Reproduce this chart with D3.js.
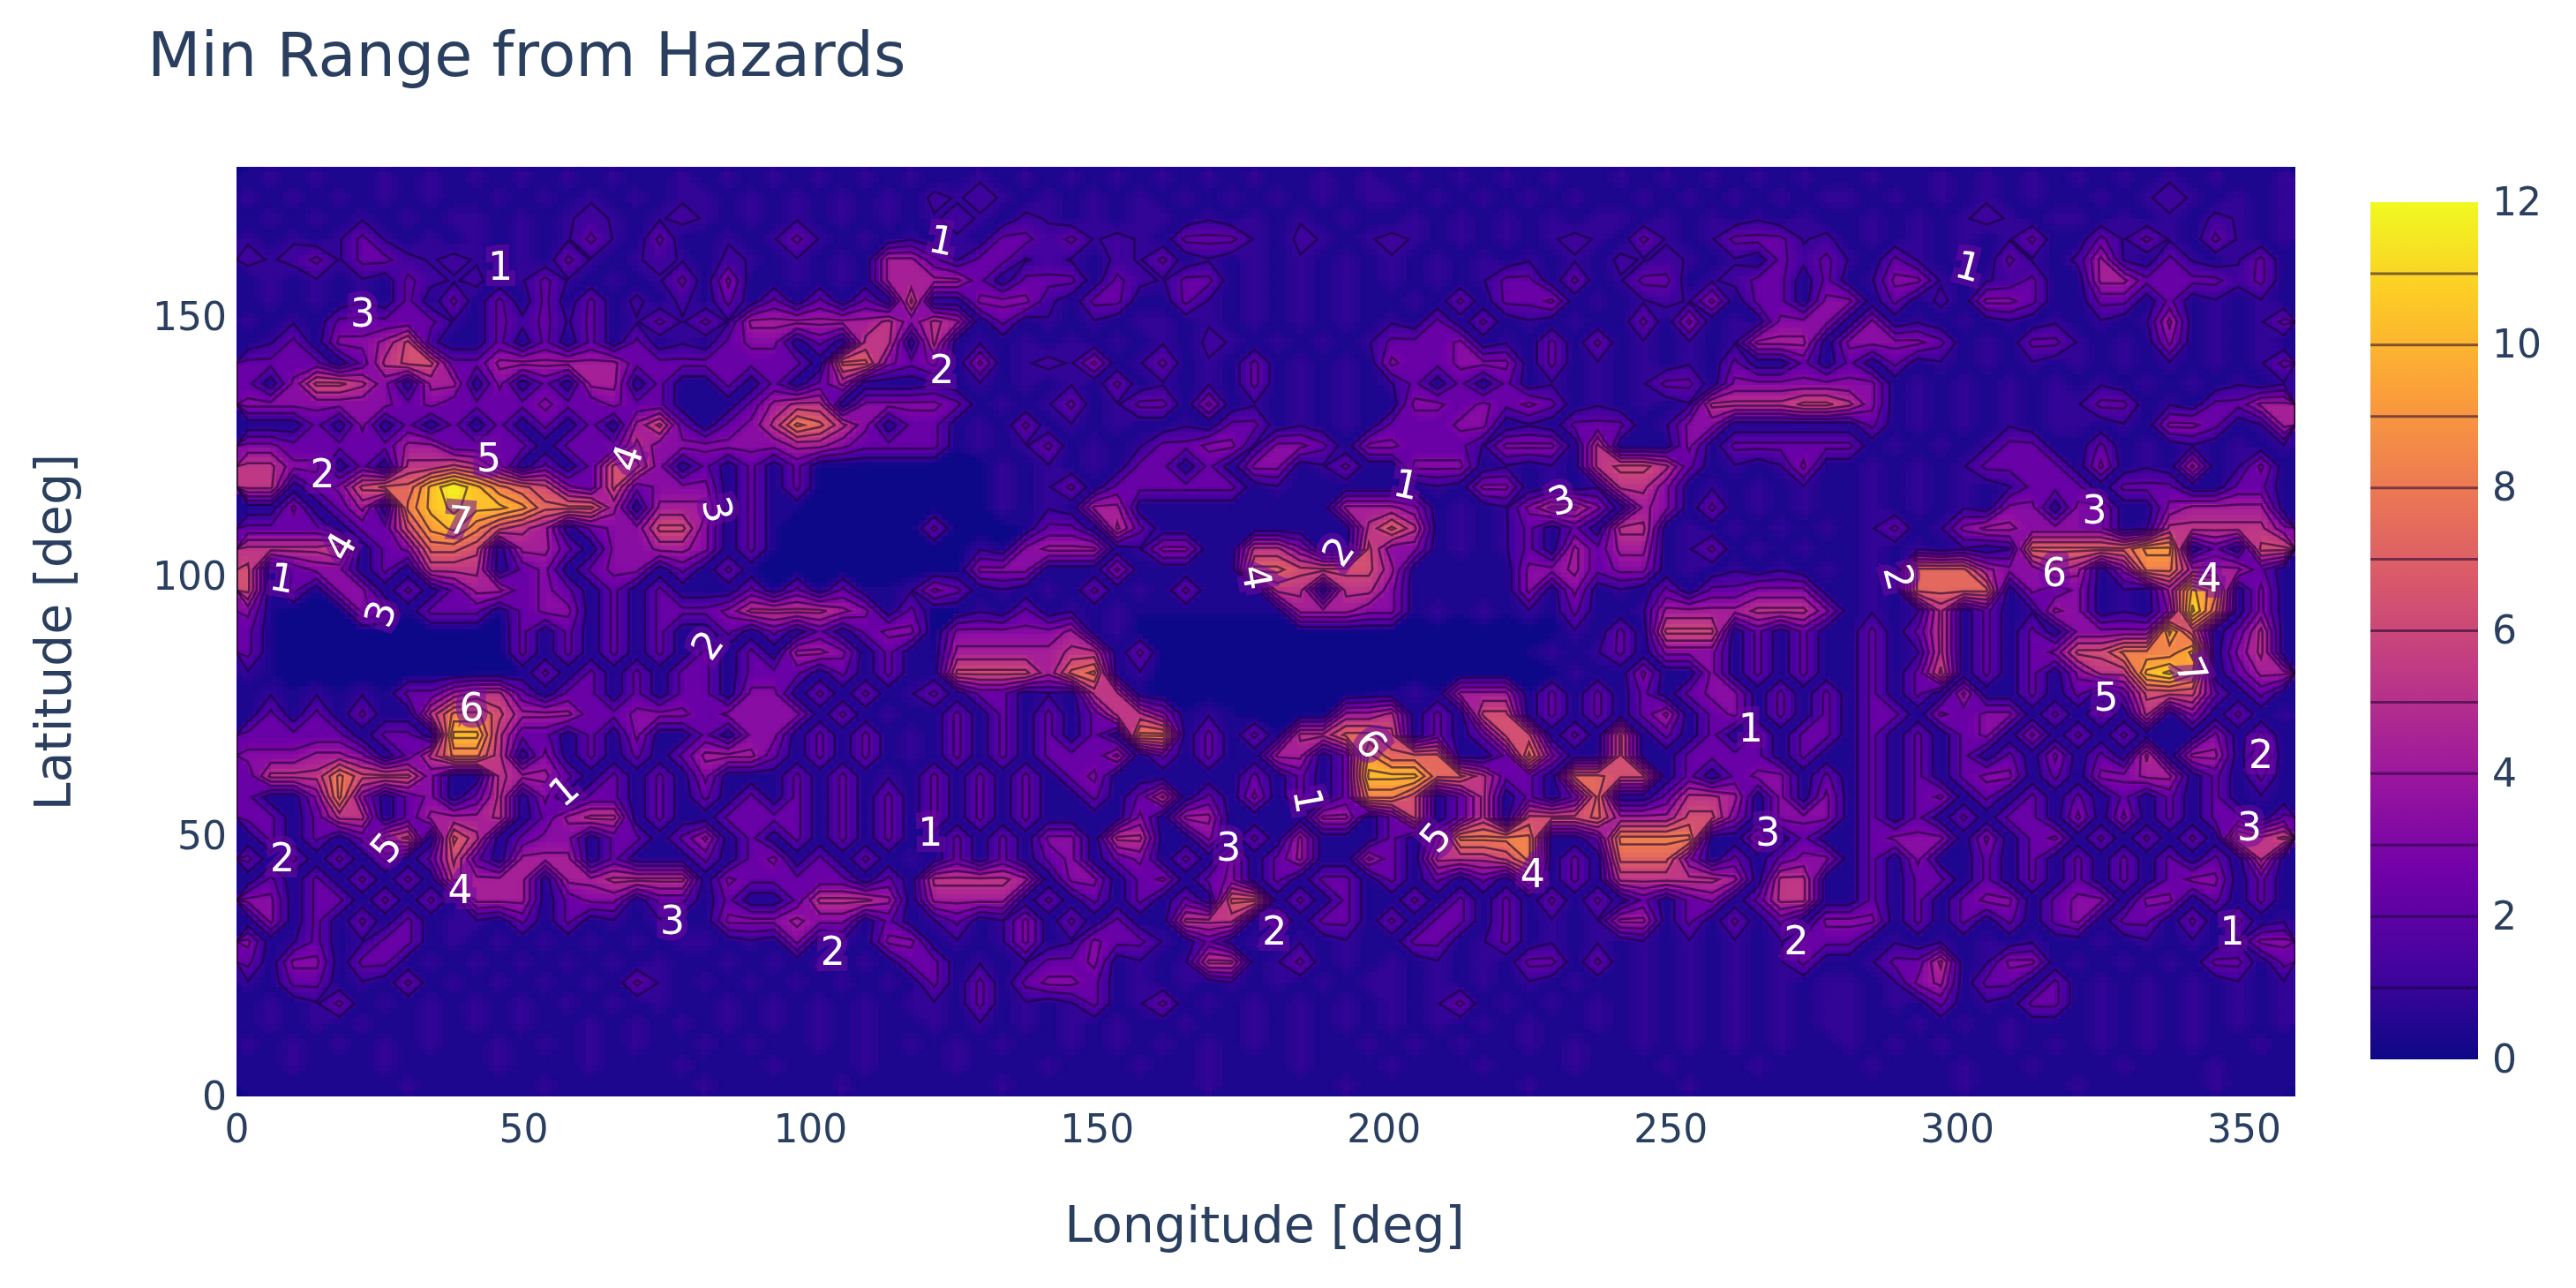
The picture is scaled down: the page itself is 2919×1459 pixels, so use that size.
<!DOCTYPE html>
<html>
<head>
<meta charset="utf-8">
<script src="https://cdn.jsdelivr.net/npm/d3@7"></script>
<style>
    body { margin: 0; background: #fff; }
    #chart { position: relative; width: 2919px; height: 1459px; }
    #chart canvas, #chart svg { position: absolute; left: 0; top: 0; }
    #chart canvas { image-rendering: pixelated; }
    text { font-family: "DejaVu Sans", sans-serif; fill: #2a3f5f; }
    .domain { display: none; }
</style>
</head>
<body>
<div id="chart"></div>
<script>
// range on a 4 deg grid, top row = highest latitude
// 0 . - are below 1 (void, mottled background), digits = whole units, a b c = 10 11 12
const rangeRows = [
    ".-.-..-.-. -.-.-.-..- .-.-.-.-.- ..-.-.-.-. -.-.-..-.- .-.-.-.-.. -.-.-.-.-. .-..-.-.-. -.-.-.-..-",
    "-.-.-.-.-. .-.-.-.-.- -.-.-.-.-. 1-1-.-.-.- .-.-.-.-.- -.-.-.-.-. .-.-.-.-.- -.-.-.-.-. .-.-1-.-.-",
    ".-.-.-.-.- -.-.-1-.-1 -.-.-.-.-. -1-.1-.-.- -.-.-.-.-. .-.-.-.-.- -.-.-.-.-. .-.-.-1-.- -.-.-.1-.-",
    "-.-.-2-.-. -.-.-2-.2. .-.-2-.-.- .-.2212-1- .222-.1-.- 1-.-.-.-1- .2-.-222-1 .-.-.-.-2. .2-2-.2-.-",
    "1-12-221-1 -.-.2-.-1- .1-.-.-.44 2-22-1-.1- 2.-.-.-.-. -.-.-.-.-. 1-1-.-.212 -.2-.-.2-. 14-.2-.-2.",
    ".-.-.-.21- 1.-2-.-.-2 .3-.-.-.44 442.222.21 -22.-.-.-. -.-.-22.2. -22.-122.2 .-33-.-12. .44222212.",
    ".-.-.-.2.2 .2.2.2.1.1 .2.2.2.2.6 2.3331.22. .2-.-.-.-. .-.2.223.- .-1-3.22.3 3.2.1.332. .22.2.-.-.",
    "-.-.22222- 2212-2.-2- 2-44444453 54.2.-.-.- -.-.-.-.-. -.2.2.-.-. .2.3.-.333 .3.-.-.-.- .-.-4.-.-2",
    ".-2.33461. .2.2.2.2.- .233.2.55. 5.-.-.-.-. -.1-.-.-.- 2223.-.2.2 .-.-.-444. 33332.-.22 -.-.3.-.-.",
    "2222225662 2444444222 2222227732 3.3.-1-3.- 2.-.2.-.-. 322333.2.- .-.-.22.2. 2.2.-.-.-. -.-.-.-.-2",
    "2.36653.44 .3.2.44.2. .2.2.24.2. -.-.-.-.2. -.-.2.-.-. -2.2.2.-.- .-22.33333 33.-.-.-.- .-.-.-.-.-",
    "3333333232 2223223222 2324553333 32.-.-2.-2 2.3.-.-.-. .3323232.- .-.-555566 53.-.-.-.- -22.-.2244",
    ".3.2.3.2.2 .2.2.2.462 .2358753.2 2.-.2.-.-. .-.22.-.-. 22233.-.22 2.-33.2.2. .2.-.-.-.- -.-.332.-4",
    "3322222442 2222222533 3333443222 2.-.-2.-.- 2233-332.3 3222-333.5 .2.3.22222 2.-.-.-22. .2.-.-.-.-",
    "5533.2.556 53.2.2663. 2.2.200000 000-.-.-.2 2.2.33.-2. .333.-.-.5 6652.-.-3. .-.-.-2222 .3.-.4.-3.",
    "55.23677ac a876326233 3.2.200000 000-.-2.22 2222.-.... ..-.33.-.- 553.-.-.-. .-.-.-.-22 2.2222222.",
    "3.3.2468ab aa97774244 4.2..00000 000-.-.44. ........44 43.-.-3553 443.2.-.-. .-.-.-.333 33..344443",
    "2222.2269a 8654.23366 3.2.000000 2000.22.52 .........5 75.-.-2323 55.-.-.-.- .-2.-34433 33.-555553",
    "55556.2377 65442.3344 3.2.000000 00-.3444.- 33..553..6 33.-.-2.42 44.-2.-.-. .-.-.-.-77 7779942.66",
    "6.233.2.55 5.23.233.2 .2.0000000 00333...3. ....776666 4.....3342 33.-.-.-.- .-.7774335 4.3884442.",
    "6.2.33.2.2 44232.2.2. ..2.2.2..- 32.-.-.2.- .2...55555 3.....3.3. -.2.22333. .-.7777432 3.-.4a8.3.",
    "3.00032.22 2.233.2.22 23555543.2 00-.2.-.-. ......4443 3.-.-.-.2. .-44445553 .-.-5.2.-4 3.-.3b7.3.",
    "2.00000000 002.2.2.2. .2.2.2.233 0333334.-0 0000000000 00000000-. 2.666.2.2. .2.25.2.2. 3333a6.25.",
    "2.00000000 002.2.2.2. 2.2.443.2. .4444455.2 0000000000 000000.-.- 2.333.2.2. .2.-5.2.23 66888a.35.",
    "-.00000000 00.2.2.2.2 2.222.2.2. .6666478.- 0000000000 00000000-. 33333.2.2. .2.26.2.2. 355ab9.244",
    ".-.-.-.224 552222.2.2 2.33.2.2.- 2.22.-.55. 000000000. .-.444.2.2 .2.233.2.2 .2.2.44.2. 2.26662.2.",
    ".2.2.2.358 8644422333 23333.2.-. .2.2.2.255 3.-.000044 5.2.66.2.2 .24.23.2.2 .22.3233.2 .2.5.3.2.-",
    "22222.22.a a522.2.3.2 2.33.2.2.- .2.2.2.2.8 8.2.2.5577 6.2.266.2. 6.2.2.2.22 .2.2.23.3. 2.25.33.2.",
    "333443.258 85.3.2.2.2 4442.2.2.- .2.2.2224. 2.2.444.29 7777.283.2 6.22222.2. .2.2.2.2.3 .2.5.44.3.",
    "255586663. .5442.2.2. 3.2.2.2.-. 2.2.2.233. 2.2.2.2.2a aa77522.77 66.2.233.2 .2.2.233.2 .3344.2.2.",
    "2.2383.23. 25.3.22.2. 2.2.2.2.2. 2.2.2.22.2 5.2.3.2.28 86.25.2.27 2.2554.3.3 .2.23.2.2. 2.2.2.2.-.",
    "2222554244 45.2455.2. .2222.2.2. 2.2.2.2.23 244.2.244. 26.25.6667 444663.333 .2.2.2.22. 3.3.2.22.2",
    ".2.2.256.7 5.233.22.2 4.2.2.2.2. .2.2.33355 .23.2.4.2. 2.388886.2 8888.23.2. .2333.3.23 .2.2.2.656",
    "2.2.2.2.26 2.444.22.2 2.23.2.2.- .2.2.23.23 .2.3.244.4 2.55568.2. 7773.2.233 .2.33.2.2. 2.2.2.2.5.",
    ".2.2.2.2.5 444.445555 .322222.2. 55554.33.2 3.23.2.22. 2.2.2.4.2. 555554.55. .2.22.2.2. 2.2.233.2.",
    "33.22.2.2. 444.233.22 .22.25554. 4444.2.2.2 .2.77.2.2. .2.2.2.2.2 .2.23.255. .2.2.233.2 33.33.2.2.",
    ".3.2.2.2.- -.2.2.-.-. .333433.2. -2.-3.2.2. .555.2.22. 2.22.2.-.- 44.2.2.2.3 33.2.2.2.2 3.22.2.2.-",
    "3.-2.-22.- .-.-.-.-.- -.-.3.-.33 .-.-3.-322 -.2.-.-.-. .22.-2.-.- .-.-.-.-22 2.-.-.-.-. .-.-.-.-33",
    "2.33.22.-. -.-.-.-.-. .-.-.-.-.2 2.-.-223.- .-55.-2.-. -.-.-.22.2 .-.-.-.-2. .-225.-33. -.-.-.22.2",
    "-.22.-.2.- .-.-.-.2-. -.-.-.-.-. 2.2.2332.- .-.-.-.-.- -.-.-.-.-. .-.-.-.-.- -.-34.22.2 .-.-.-.-.-",
    ".-.-2.-.-. -.-.-.-.-. .-.-.-.-.- -.2.-.-2.- 2.-.-.-.-. -.-2.-.-.- .-.-.-.-.- -.-.2.-.22 .-.-.-.-.-",
    ".-.-.-..-. -.-..-.-.- .-.-.-.-.. -.-.-.-.-. .-..-.-.-. -.-.-.-..- .-.-.-.-.- -..-.-.-.. .-.-.-.-.-",
    "-.-.-.-.-. .-.-.-.-.. -.-..-.-.- .-.-..-.-. -.-.-.-..- .-.-..-.-. .-.-.-.-.. -.-.-..-.- .-.-.-..-.",
    "..-...-... .-...-...- ...-...-.. .-...-...- ..-...-... -...-...-. ..-...-... .-...-..-. ..-...-...-",
    ".......-.. ...-...... -.....-... ...-...... ..-.....-. ......-... ...-...... .....-.... -.....-..."
].map(row => row.replace(/ /g, ''));

// dark square cells of the mesh (grid column, grid row)
const holeCol = [4, 1, 12, 14, 17, 10, 1, 4, 6, 17, 11, 0, 13, 6, 10, 12, 10, 24, 25, 26, 22, 24, 28, 26, 21, 20, 19,
    7, 12, 9, 2, 6, 12, 11, 15, 11, 13, 17, 19, 2, 0, 22, 21, 22, 19, 21, 13, 21,
    36, 40, 43, 44, 38, 42, 36, 35, 41, 36, 38, 40, 44, 46, 48, 51, 37, 40, 41, 47, 41, 52, 55, 57, 57, 53, 51, 53, 59, 49,
    60, 62, 63, 62, 62, 60, 65, 64, 66, 75, 77, 76, 77, 83, 85, 84, 86, 77, 74, 72, 82,
    65, 66, 68, 66, 60, 61, 79, 77, 81, 85, 87, 82, 85, 86, 89, 87, 30, 31, 59, 57, 47];
const holeRow = [9, 10, 10, 10, 10, 10, 12, 12, 16, 16, 18, 16, 13, 6, 7, 6, 8, 8, 9, 6, 5, 6, 10, 11, 11, 11, 11,
    26, 28, 30, 30, 31, 31, 32, 32, 33, 34, 33, 33, 31, 32, 35, 29, 29, 27, 27, 25, 25,
    26, 29, 28, 28, 29, 29, 30, 30, 30, 31, 31, 31, 31, 31, 32, 32, 32, 32, 32, 33, 34, 30, 30, 29, 32, 28, 27, 26, 28, 32,
    24, 24, 24, 28, 29, 30, 32, 33, 33, 24, 24, 25, 25, 27, 27, 28, 23, 27, 33, 35, 35,
    12, 12, 12, 9, 16, 13, 16, 20, 20, 18, 18, 16, 15, 15, 16, 20, 6, 6, 17, 17, 20];

const cellCodes = { '0': 0.05, '.': 0.3, '-': 0.9, 'a': 10.3, 'b': 11.3, 'c': 12 };
const contourLevels = [1, 2, 3, 4, 5, 6, 7, 8, 9, 10, 11];
const lonTicks = [0, 50, 100, 150, 200, 250, 300, 350];
const latTicks = [0, 50, 100, 150];
const barTicks = [0, 2, 4, 6, 8, 10, 12];
const plasmaStops = ['#0d0887', '#46039f', '#7201a8', '#9c179e', '#bd3786', '#d8576b', '#ed7953', '#fb9f3a', '#fdca26', '#f0f921'];

// labels printed on the contour lines
const labelText = ['1', '3', '1', '2', '1', '5', '2', '4', '7', '3', '4', '1', '3', '1', '2', '3', '3', '6', '4', '2', '4', '2', '1', '5', '7', '6', '6', '1', '1', '5', '5', '2', '3', '2', '1', '3', '3', '4', '4', '3', '2', '2', '2', '1'];
const labelLon = [46, 22, 123, 123, 302, 44, 15, 68, 39, 84, 18, 8, 25, 204, 192, 231, 324, 317, 344, 290, 178, 82, 264, 326, 341, 41, 198, 187, 57, 26, 209, 353, 351, 8, 121, 173, 267, 39, 226, 76, 181, 104, 272, 348];
const labelLat = [160, 151, 165, 140, 160, 123, 120, 123, 111, 113, 106, 100, 93, 118, 105, 115, 113, 101, 100, 100, 100, 87, 71, 77, 82, 75, 68, 57, 59, 48, 50, 66, 52, 46, 51, 48, 51, 40, 43, 34, 32, 28, 30, 32];
const labelAngle = [0, 0, 12, 0, 15, 0, 0, -70, 5, 75, -60, 10, -70, 12, -55, -20, 0, 0, 0, 75, 80, -55, 0, 0, 65, 0, 50, 80, -40, -50, -50, 0, 0, 0, 0, 0, 0, 0, 0, 0, 0, 0, 0, 0];

const cols = rangeRows[0].length, rows = rangeRows.length;
const cells = [];
rangeRows.forEach(row => {
    for (let i = 0; i < cols; i++) {
        const c = row[i] || '.';
        cells.push(c in cellCodes ? cellCodes[c] : +c + 0.3);
    }
});
holeCol.forEach((c, i) => {
    cells[holeRow[i] * cols + c] = cellCodes['.'];
});

const margin = { left: 268, top: 189, right: 2601, bottom: 1242 };
const bar = { left: 2686, right: 2808, top: 229, bottom: 1200 };

const x = d3.scaleLinear().domain([0, 359]).range([margin.left, margin.right]);
const y = d3.scaleLinear().domain([0, 179]).range([margin.bottom, margin.top]);
const lonOfGrid = d3.scaleLinear().domain([0, cols]).range([0, 359]);
const latOfGrid = d3.scaleLinear().domain([0, rows]).range([179, 0]);
const color = d3.scaleSequential(d3.piecewise(d3.interpolateRgb, plasmaStops)).domain([0, 12]);

const contours = d3.contours().size([cols, rows]);
const bands = d3.range(0.25, 12, 0.25);

// heatmap on a canvas with one pixel per degree, like the source raster
const canvas = d3.select('#chart').append('canvas')
    .attr('width', 359)
    .attr('height', 179)
    .style('left', margin.left + 'px')
    .style('top', margin.top + 'px')
    .style('width', (margin.right - margin.left) + 'px')
    .style('height', (margin.bottom - margin.top) + 'px');
const ctx = canvas.node().getContext('2d');
const rasterPath = d3.geoPath(d3.geoTransform({
    point: function(gx, gy) {
        this.stream.point(lonOfGrid(gx), 179 - latOfGrid(gy));
    }
}), ctx);
ctx.fillStyle = color(0);
ctx.fillRect(0, 0, 359, 179);
contours.thresholds(bands)(cells).forEach(d => {
    ctx.beginPath();
    rasterPath(d);
    ctx.fillStyle = color(d.value + 0.125);
    ctx.fill();
});

const svg = d3.select('#chart').append('svg')
    .attr('width', 2919)
    .attr('height', 1459);

const path = d3.geoPath(d3.geoTransform({
    point: function(gx, gy) {
        this.stream.point(x(lonOfGrid(gx)), y(latOfGrid(gy)));
    }
}));

svg.append('clipPath').attr('id', 'plot-clip').append('rect')
    .attr('x', margin.left)
    .attr('y', margin.top)
    .attr('width', margin.right - margin.left)
    .attr('height', margin.bottom - margin.top);

const plot = svg.append('g').attr('clip-path', 'url(#plot-clip)');

plot.selectAll('.level')
    .data(contours.thresholds(contourLevels)(cells))
    .enter().append('path')
    .attr('class', 'level')
    .attr('d', path)
    .attr('fill', 'none')
    .attr('stroke', 'rgba(25,0,50,0.6)')
    .attr('stroke-width', 2.5);

plot.selectAll('.clabel')
    .data(labelText)
    .enter().append('text')
    .attr('class', 'clabel')
    .attr('transform', (d, i) => 'translate(' + x(labelLon[i]) + ',' + y(labelLat[i]) + ') rotate(' + labelAngle[i] + ')')
    .attr('text-anchor', 'middle')
    .attr('dy', '0.36em')
    .style('font-size', '44px')
    .style('fill', '#fff')
    .style('paint-order', 'stroke')
    .style('stroke', 'rgba(110,10,160,0.55)')
    .style('stroke-width', '14px')
    .text(d => d);

// axes
const xAxis = d3.axisBottom(x).tickValues(lonTicks).tickSize(0).tickPadding(21);
const yAxis = d3.axisLeft(y).tickValues(latTicks).tickSize(0).tickPadding(11);

svg.append('g')
    .attr('class', 'x axis')
    .attr('transform', 'translate(0,' + margin.bottom + ')')
    .call(xAxis)
    .selectAll('text')
    .style('font-size', '44px');

svg.append('g')
    .attr('class', 'y axis')
    .attr('transform', 'translate(' + margin.left + ',0)')
    .call(yAxis)
    .selectAll('text')
    .style('font-size', '44px');

// colorbar
const barScale = d3.scaleLinear().domain([0, 12]).range([bar.bottom, bar.top]);
const gradient = svg.append('defs').append('linearGradient')
    .attr('id', 'bar-gradient')
    .attr('x1', 0).attr('x2', 0).attr('y1', 1).attr('y2', 0);
plasmaStops.forEach((c, i) => {
    gradient.append('stop')
        .attr('offset', i / (plasmaStops.length - 1))
        .attr('stop-color', c);
});

svg.append('rect')
    .attr('x', bar.left)
    .attr('y', bar.top)
    .attr('width', bar.right - bar.left)
    .attr('height', bar.bottom - bar.top)
    .attr('fill', 'url(#bar-gradient)');

svg.selectAll('.bar-level')
    .data(contourLevels)
    .enter().append('line')
    .attr('class', 'bar-level')
    .attr('x1', bar.left)
    .attr('x2', bar.right)
    .attr('y1', d => barScale(d))
    .attr('y2', d => barScale(d))
    .attr('stroke', 'rgba(25,0,50,0.55)')
    .attr('stroke-width', 3);

svg.append('g')
    .attr('class', 'bar axis')
    .attr('transform', 'translate(' + bar.right + ',0)')
    .call(d3.axisRight(barScale).tickValues(barTicks).tickSize(0).tickPadding(16))
    .selectAll('text')
    .style('font-size', '44px');

// titles
svg.append('text')
    .attr('x', 167)
    .attr('y', 86)
    .style('font-size', '70px')
    .text('Min Range from Hazards');

svg.append('text')
    .attr('x', 1433)
    .attr('y', 1407)
    .attr('text-anchor', 'middle')
    .style('font-size', '57px')
    .text('Longitude [deg]');

svg.append('text')
    .attr('transform', 'translate(80,716) rotate(-90)')
    .attr('text-anchor', 'middle')
    .style('font-size', '57px')
    .text('Latitude [deg]');
</script>
</body>
</html>
